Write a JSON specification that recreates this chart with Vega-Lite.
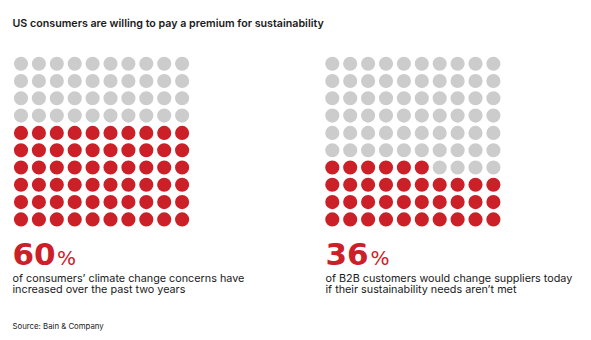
{
  "$schema": "https://vega.github.io/schema/vega-lite/v6.json",
  "padding": 0,
  "bounds": "flush",
  "background": "white",
  "config": {
    "view": {"stroke": null},
    "concat": {"spacing": 0},
    "text": {"align": "left", "baseline": "alphabetic"}
  },
  "datasets": {
    "dots": [
      {"panel":"A","row":0,"col":0,"share":"no"},{"panel":"A","row":0,"col":1,"share":"no"},{"panel":"A","row":0,"col":2,"share":"no"},{"panel":"A","row":0,"col":3,"share":"no"},{"panel":"A","row":0,"col":4,"share":"no"},{"panel":"A","row":0,"col":5,"share":"no"},{"panel":"A","row":0,"col":6,"share":"no"},{"panel":"A","row":0,"col":7,"share":"no"},{"panel":"A","row":0,"col":8,"share":"no"},{"panel":"A","row":0,"col":9,"share":"no"},
      {"panel":"A","row":1,"col":0,"share":"no"},{"panel":"A","row":1,"col":1,"share":"no"},{"panel":"A","row":1,"col":2,"share":"no"},{"panel":"A","row":1,"col":3,"share":"no"},{"panel":"A","row":1,"col":4,"share":"no"},{"panel":"A","row":1,"col":5,"share":"no"},{"panel":"A","row":1,"col":6,"share":"no"},{"panel":"A","row":1,"col":7,"share":"no"},{"panel":"A","row":1,"col":8,"share":"no"},{"panel":"A","row":1,"col":9,"share":"no"},
      {"panel":"A","row":2,"col":0,"share":"no"},{"panel":"A","row":2,"col":1,"share":"no"},{"panel":"A","row":2,"col":2,"share":"no"},{"panel":"A","row":2,"col":3,"share":"no"},{"panel":"A","row":2,"col":4,"share":"no"},{"panel":"A","row":2,"col":5,"share":"no"},{"panel":"A","row":2,"col":6,"share":"no"},{"panel":"A","row":2,"col":7,"share":"no"},{"panel":"A","row":2,"col":8,"share":"no"},{"panel":"A","row":2,"col":9,"share":"no"},
      {"panel":"A","row":3,"col":0,"share":"no"},{"panel":"A","row":3,"col":1,"share":"no"},{"panel":"A","row":3,"col":2,"share":"no"},{"panel":"A","row":3,"col":3,"share":"no"},{"panel":"A","row":3,"col":4,"share":"no"},{"panel":"A","row":3,"col":5,"share":"no"},{"panel":"A","row":3,"col":6,"share":"no"},{"panel":"A","row":3,"col":7,"share":"no"},{"panel":"A","row":3,"col":8,"share":"no"},{"panel":"A","row":3,"col":9,"share":"no"},
      {"panel":"A","row":4,"col":0,"share":"yes"},{"panel":"A","row":4,"col":1,"share":"yes"},{"panel":"A","row":4,"col":2,"share":"yes"},{"panel":"A","row":4,"col":3,"share":"yes"},{"panel":"A","row":4,"col":4,"share":"yes"},{"panel":"A","row":4,"col":5,"share":"yes"},{"panel":"A","row":4,"col":6,"share":"yes"},{"panel":"A","row":4,"col":7,"share":"yes"},{"panel":"A","row":4,"col":8,"share":"yes"},{"panel":"A","row":4,"col":9,"share":"yes"},
      {"panel":"A","row":5,"col":0,"share":"yes"},{"panel":"A","row":5,"col":1,"share":"yes"},{"panel":"A","row":5,"col":2,"share":"yes"},{"panel":"A","row":5,"col":3,"share":"yes"},{"panel":"A","row":5,"col":4,"share":"yes"},{"panel":"A","row":5,"col":5,"share":"yes"},{"panel":"A","row":5,"col":6,"share":"yes"},{"panel":"A","row":5,"col":7,"share":"yes"},{"panel":"A","row":5,"col":8,"share":"yes"},{"panel":"A","row":5,"col":9,"share":"yes"},
      {"panel":"A","row":6,"col":0,"share":"yes"},{"panel":"A","row":6,"col":1,"share":"yes"},{"panel":"A","row":6,"col":2,"share":"yes"},{"panel":"A","row":6,"col":3,"share":"yes"},{"panel":"A","row":6,"col":4,"share":"yes"},{"panel":"A","row":6,"col":5,"share":"yes"},{"panel":"A","row":6,"col":6,"share":"yes"},{"panel":"A","row":6,"col":7,"share":"yes"},{"panel":"A","row":6,"col":8,"share":"yes"},{"panel":"A","row":6,"col":9,"share":"yes"},
      {"panel":"A","row":7,"col":0,"share":"yes"},{"panel":"A","row":7,"col":1,"share":"yes"},{"panel":"A","row":7,"col":2,"share":"yes"},{"panel":"A","row":7,"col":3,"share":"yes"},{"panel":"A","row":7,"col":4,"share":"yes"},{"panel":"A","row":7,"col":5,"share":"yes"},{"panel":"A","row":7,"col":6,"share":"yes"},{"panel":"A","row":7,"col":7,"share":"yes"},{"panel":"A","row":7,"col":8,"share":"yes"},{"panel":"A","row":7,"col":9,"share":"yes"},
      {"panel":"A","row":8,"col":0,"share":"yes"},{"panel":"A","row":8,"col":1,"share":"yes"},{"panel":"A","row":8,"col":2,"share":"yes"},{"panel":"A","row":8,"col":3,"share":"yes"},{"panel":"A","row":8,"col":4,"share":"yes"},{"panel":"A","row":8,"col":5,"share":"yes"},{"panel":"A","row":8,"col":6,"share":"yes"},{"panel":"A","row":8,"col":7,"share":"yes"},{"panel":"A","row":8,"col":8,"share":"yes"},{"panel":"A","row":8,"col":9,"share":"yes"},
      {"panel":"A","row":9,"col":0,"share":"yes"},{"panel":"A","row":9,"col":1,"share":"yes"},{"panel":"A","row":9,"col":2,"share":"yes"},{"panel":"A","row":9,"col":3,"share":"yes"},{"panel":"A","row":9,"col":4,"share":"yes"},{"panel":"A","row":9,"col":5,"share":"yes"},{"panel":"A","row":9,"col":6,"share":"yes"},{"panel":"A","row":9,"col":7,"share":"yes"},{"panel":"A","row":9,"col":8,"share":"yes"},{"panel":"A","row":9,"col":9,"share":"yes"},
      {"panel":"B","row":0,"col":0,"share":"no"},{"panel":"B","row":0,"col":1,"share":"no"},{"panel":"B","row":0,"col":2,"share":"no"},{"panel":"B","row":0,"col":3,"share":"no"},{"panel":"B","row":0,"col":4,"share":"no"},{"panel":"B","row":0,"col":5,"share":"no"},{"panel":"B","row":0,"col":6,"share":"no"},{"panel":"B","row":0,"col":7,"share":"no"},{"panel":"B","row":0,"col":8,"share":"no"},{"panel":"B","row":0,"col":9,"share":"no"},
      {"panel":"B","row":1,"col":0,"share":"no"},{"panel":"B","row":1,"col":1,"share":"no"},{"panel":"B","row":1,"col":2,"share":"no"},{"panel":"B","row":1,"col":3,"share":"no"},{"panel":"B","row":1,"col":4,"share":"no"},{"panel":"B","row":1,"col":5,"share":"no"},{"panel":"B","row":1,"col":6,"share":"no"},{"panel":"B","row":1,"col":7,"share":"no"},{"panel":"B","row":1,"col":8,"share":"no"},{"panel":"B","row":1,"col":9,"share":"no"},
      {"panel":"B","row":2,"col":0,"share":"no"},{"panel":"B","row":2,"col":1,"share":"no"},{"panel":"B","row":2,"col":2,"share":"no"},{"panel":"B","row":2,"col":3,"share":"no"},{"panel":"B","row":2,"col":4,"share":"no"},{"panel":"B","row":2,"col":5,"share":"no"},{"panel":"B","row":2,"col":6,"share":"no"},{"panel":"B","row":2,"col":7,"share":"no"},{"panel":"B","row":2,"col":8,"share":"no"},{"panel":"B","row":2,"col":9,"share":"no"},
      {"panel":"B","row":3,"col":0,"share":"no"},{"panel":"B","row":3,"col":1,"share":"no"},{"panel":"B","row":3,"col":2,"share":"no"},{"panel":"B","row":3,"col":3,"share":"no"},{"panel":"B","row":3,"col":4,"share":"no"},{"panel":"B","row":3,"col":5,"share":"no"},{"panel":"B","row":3,"col":6,"share":"no"},{"panel":"B","row":3,"col":7,"share":"no"},{"panel":"B","row":3,"col":8,"share":"no"},{"panel":"B","row":3,"col":9,"share":"no"},
      {"panel":"B","row":4,"col":0,"share":"no"},{"panel":"B","row":4,"col":1,"share":"no"},{"panel":"B","row":4,"col":2,"share":"no"},{"panel":"B","row":4,"col":3,"share":"no"},{"panel":"B","row":4,"col":4,"share":"no"},{"panel":"B","row":4,"col":5,"share":"no"},{"panel":"B","row":4,"col":6,"share":"no"},{"panel":"B","row":4,"col":7,"share":"no"},{"panel":"B","row":4,"col":8,"share":"no"},{"panel":"B","row":4,"col":9,"share":"no"},
      {"panel":"B","row":5,"col":0,"share":"no"},{"panel":"B","row":5,"col":1,"share":"no"},{"panel":"B","row":5,"col":2,"share":"no"},{"panel":"B","row":5,"col":3,"share":"no"},{"panel":"B","row":5,"col":4,"share":"no"},{"panel":"B","row":5,"col":5,"share":"no"},{"panel":"B","row":5,"col":6,"share":"no"},{"panel":"B","row":5,"col":7,"share":"no"},{"panel":"B","row":5,"col":8,"share":"no"},{"panel":"B","row":5,"col":9,"share":"no"},
      {"panel":"B","row":6,"col":0,"share":"yes"},{"panel":"B","row":6,"col":1,"share":"yes"},{"panel":"B","row":6,"col":2,"share":"yes"},{"panel":"B","row":6,"col":3,"share":"yes"},{"panel":"B","row":6,"col":4,"share":"yes"},{"panel":"B","row":6,"col":5,"share":"yes"},{"panel":"B","row":6,"col":6,"share":"no"},{"panel":"B","row":6,"col":7,"share":"no"},{"panel":"B","row":6,"col":8,"share":"no"},{"panel":"B","row":6,"col":9,"share":"no"},
      {"panel":"B","row":7,"col":0,"share":"yes"},{"panel":"B","row":7,"col":1,"share":"yes"},{"panel":"B","row":7,"col":2,"share":"yes"},{"panel":"B","row":7,"col":3,"share":"yes"},{"panel":"B","row":7,"col":4,"share":"yes"},{"panel":"B","row":7,"col":5,"share":"yes"},{"panel":"B","row":7,"col":6,"share":"yes"},{"panel":"B","row":7,"col":7,"share":"yes"},{"panel":"B","row":7,"col":8,"share":"yes"},{"panel":"B","row":7,"col":9,"share":"yes"},
      {"panel":"B","row":8,"col":0,"share":"yes"},{"panel":"B","row":8,"col":1,"share":"yes"},{"panel":"B","row":8,"col":2,"share":"yes"},{"panel":"B","row":8,"col":3,"share":"yes"},{"panel":"B","row":8,"col":4,"share":"yes"},{"panel":"B","row":8,"col":5,"share":"yes"},{"panel":"B","row":8,"col":6,"share":"yes"},{"panel":"B","row":8,"col":7,"share":"yes"},{"panel":"B","row":8,"col":8,"share":"yes"},{"panel":"B","row":8,"col":9,"share":"yes"},
      {"panel":"B","row":9,"col":0,"share":"yes"},{"panel":"B","row":9,"col":1,"share":"yes"},{"panel":"B","row":9,"col":2,"share":"yes"},{"panel":"B","row":9,"col":3,"share":"yes"},{"panel":"B","row":9,"col":4,"share":"yes"},{"panel":"B","row":9,"col":5,"share":"yes"},{"panel":"B","row":9,"col":6,"share":"yes"},{"panel":"B","row":9,"col":7,"share":"yes"},{"panel":"B","row":9,"col":8,"share":"yes"},{"panel":"B","row":9,"col":9,"share":"yes"}
    ],
    "labels": [
      {"panel":"A","kind":"title","text":"US consumers are willing to pay a premium for sustainability","col":-0.475,"row":-2.139},
      {"panel":"A","kind":"big","text":"60","col":-0.475,"row":11.636},
      {"panel":"A","kind":"pct","text":"%","col":2.01,"row":11.636},
      {"panel":"A","kind":"desc","text":"of consumers’ climate change concerns have","col":-0.475,"row":12.601},
      {"panel":"A","kind":"desc","text":"increased over the past two years","col":-0.475,"row":13.283},
      {"panel":"A","kind":"source","text":"Source: Bain & Company","col":-0.475,"row":15.335},
      {"panel":"B","kind":"big","text":"36","col":-0.38,"row":11.636},
      {"panel":"B","kind":"pct","text":"%","col":2.134,"row":11.636},
      {"panel":"B","kind":"desc","text":"of B2B customers would change suppliers today","col":-0.38,"row":12.601},
      {"panel":"B","kind":"desc","text":"if their sustainability needs aren’t met","col":-0.38,"row":13.283}
    ]
  },
  "hconcat": [
    {
      "width": 300,
      "height": 340,
      "layer": [
        {
          "data": {"name": "dots"},
          "transform": [{"filter": "datum.panel === 'A'"}],
          "mark": {"type": "circle", "size": 200, "opacity": 1},
          "encoding": {
            "x": {"field": "col", "type": "quantitative", "axis": null, "scale": {"domain": [-1.1732, 15.5866], "nice": false, "zero": false}},
            "y": {"field": "row", "type": "quantitative", "axis": null, "scale": {"domain": [-3.6821, 15.9711], "nice": false, "zero": false, "reverse": true}},
            "color": {"field": "share", "type": "nominal", "legend": null, "scale": {"domain": ["yes", "no"], "range": ["#CC2028", "#CCCCCC"]}}
          }
        },
        {
          "data": {"name": "labels"},
          "transform": [{"filter": "datum.panel === 'A' && datum.kind === 'title'"}],
          "mark": {"type": "text", "font": "Inter", "fontSize": 10.7, "fontWeight": 600, "color": "#1a1a1a"},
          "encoding": {"x": {"field": "col", "type": "quantitative"}, "y": {"field": "row", "type": "quantitative"}, "text": {"field": "text"}}
        },
        {
          "data": {"name": "labels"},
          "transform": [{"filter": "datum.panel === 'A' && datum.kind === 'big'"}],
          "mark": {"type": "text", "font": "DejaVu Sans", "fontSize": 31, "fontWeight": "bold", "color": "#CC2028"},
          "encoding": {"x": {"field": "col", "type": "quantitative"}, "y": {"field": "row", "type": "quantitative"}, "text": {"field": "text"}}
        },
        {
          "data": {"name": "labels"},
          "transform": [{"filter": "datum.panel === 'A' && datum.kind === 'pct'"}],
          "mark": {"type": "text", "font": "DejaVu Sans", "fontSize": 20, "color": "#CC2028"},
          "encoding": {"x": {"field": "col", "type": "quantitative"}, "y": {"field": "row", "type": "quantitative"}, "text": {"field": "text"}}
        },
        {
          "data": {"name": "labels"},
          "transform": [{"filter": "datum.panel === 'A' && datum.kind === 'desc'"}],
          "mark": {"type": "text", "font": "Inter", "fontSize": 10.8, "color": "#1a1a1a"},
          "encoding": {"x": {"field": "col", "type": "quantitative"}, "y": {"field": "row", "type": "quantitative"}, "text": {"field": "text"}}
        },
        {
          "data": {"name": "labels"},
          "transform": [{"filter": "datum.panel === 'A' && datum.kind === 'source'"}],
          "mark": {"type": "text", "font": "Inter", "fontSize": 7.8, "color": "#1a1a1a"},
          "encoding": {"x": {"field": "col", "type": "quantitative"}, "y": {"field": "row", "type": "quantitative"}, "text": {"field": "text"}}
        }
      ]
    },
    {
      "width": 291,
      "height": 340,
      "layer": [
        {
          "data": {"name": "dots"},
          "transform": [{"filter": "datum.panel === 'B'"}],
          "mark": {"type": "circle", "size": 200, "opacity": 1},
          "encoding": {
            "x": {"field": "col", "type": "quantitative", "axis": null, "scale": {"domain": [-1.8045, 14.4525], "nice": false, "zero": false}},
            "y": {"field": "row", "type": "quantitative", "axis": null, "scale": {"domain": [-3.6821, 15.9711], "nice": false, "zero": false, "reverse": true}},
            "color": {"field": "share", "type": "nominal", "legend": null, "scale": {"domain": ["yes", "no"], "range": ["#CC2028", "#CCCCCC"]}}
          }
        },
        {
          "data": {"name": "labels"},
          "transform": [{"filter": "datum.panel === 'B' && datum.kind === 'big'"}],
          "mark": {"type": "text", "font": "DejaVu Sans", "fontSize": 31, "fontWeight": "bold", "color": "#CC2028"},
          "encoding": {"x": {"field": "col", "type": "quantitative"}, "y": {"field": "row", "type": "quantitative"}, "text": {"field": "text"}}
        },
        {
          "data": {"name": "labels"},
          "transform": [{"filter": "datum.panel === 'B' && datum.kind === 'pct'"}],
          "mark": {"type": "text", "font": "DejaVu Sans", "fontSize": 20, "color": "#CC2028"},
          "encoding": {"x": {"field": "col", "type": "quantitative"}, "y": {"field": "row", "type": "quantitative"}, "text": {"field": "text"}}
        },
        {
          "data": {"name": "labels"},
          "transform": [{"filter": "datum.panel === 'B' && datum.kind === 'desc'"}],
          "mark": {"type": "text", "font": "Inter", "fontSize": 10.8, "color": "#1a1a1a"},
          "encoding": {"x": {"field": "col", "type": "quantitative"}, "y": {"field": "row", "type": "quantitative"}, "text": {"field": "text"}}
        }
      ]
    }
  ]
}
